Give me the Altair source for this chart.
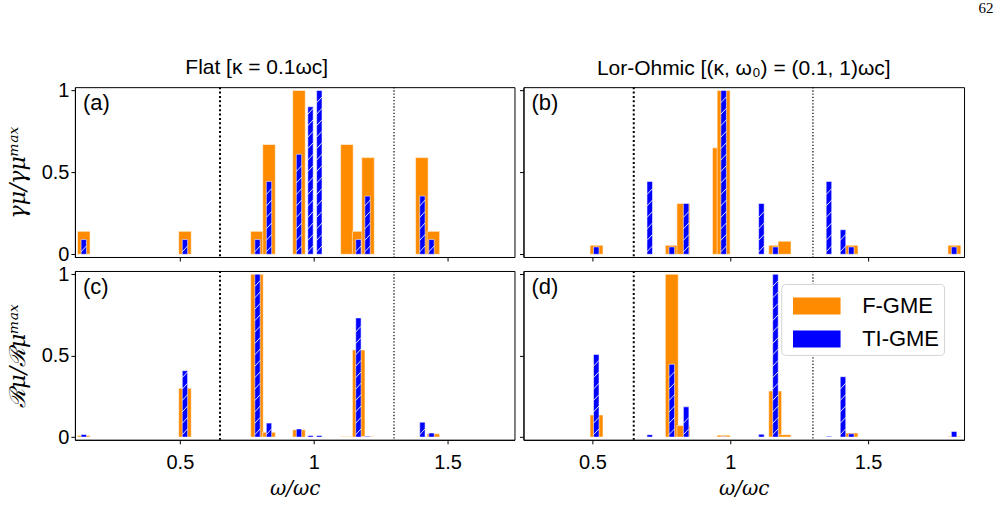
import altair as alt
import pandas as pd

# ---------------- data ----------------
series_names = ["F-GME", "TI-GME"]
series_colors = ["#ff8c00", "#0000ff"]

# Flat spectral density column
flat_f_omega = [0.141, 0.519, 0.788, 0.833, 0.945, 1.124, 1.168, 1.203, 1.404, 1.447]
flat_f_gamma = [0.14, 0.14, 0.14, 0.67, 1.0, 0.67, 0.14, 0.59, 0.59, 0.14]
flat_f_rate = [0.01, 0.30, 1.0, 0.03, 0.045, 0.004, 0.535, 0.004, 0.003, 0.02]
flat_t_omega = [0.141, 0.519, 0.790, 0.833, 0.945, 0.988, 1.021, 1.167, 1.201, 1.406, 1.440]
flat_t_gamma = [0.09, 0.09, 0.09, 0.445, 0.61, 0.90, 1.0, 0.09, 0.355, 0.355, 0.09]
flat_t_rate = [0.016, 0.408, 1.0, 0.086, 0.05, 0.01, 0.01, 0.732, 0.005, 0.092, 0.025]

# Lorentzian-Ohmic column
lor_f_omega = [0.515, 0.788, 0.830, 0.959, 0.976, 1.163, 1.197, 1.440, 1.813]
lor_f_gamma = [0.055, 0.055, 0.31, 0.65, 1.0, 0.055, 0.08, 0.055, 0.055]
lor_f_rate = [0.136, 1.0, 0.071, 0.003, 0.012, 0.283, 0.015, 0.025, 0.005]
lor_t_omega = [0.514, 0.708, 0.788, 0.840, 0.976, 1.113, 1.164, 1.358, 1.409, 1.439, 1.812]
lor_t_gamma = [0.045, 0.445, 0.045, 0.31, 1.0, 0.31, 0.045, 0.445, 0.15, 0.045, 0.045]
lor_t_rate = [0.508, 0.015, 0.447, 0.186, 0.003, 0.018, 1.0, 0.005, 0.371, 0.02, 0.035]

boundary_omega = [0.65, 1.3]
x_ticks = [0.5, 1, 1.5]
y_ticks = [0, 0.5, 1]
flat_domain = [0.108, 1.75]
lor_domain = [0.25, 1.848]
y_domain = [-0.0165, 1.02]

F_WIDTH = 0.047
T_WIDTH = 0.020
HATCH_STEP = 0.07
HATCH_RISE = 0.036

SANS = "Liberation Sans"
SERIF = "DejaVu Serif"

color = alt.Color(
    "series:N",
    scale=alt.Scale(domain=series_names, range=series_colors),
    legend=alt.Legend(
        title=None,
        orient="none",
        legendX=707,
        legendY=197,
        symbolType="M-0.6,-0.5H2.2V0.5H-0.6Z",
        symbolSize=1156,
        symbolStrokeWidth=0,
        symbolOpacity=1,
        labelFont=SANS,
        labelFontSize=22,
        labelColor="black",
        labelOffset=42,
        rowPadding=5,
        padding=5,
        fillColor="white",
        strokeColor="#d4d4d4",
        cornerRadius=4,
    ),
)


def bar_table(omega, vals, name, width):
    return pd.DataFrame({
        "lo": [o - width / 2 for o in omega],
        "hi": [o + width / 2 for o in omega],
        "val": vals,
        "y0": [0.0] * len(vals),
        "series": [name] * len(vals),
    })


def hatch_table(omega, vals, width):
    rows = []
    for o, v in zip(omega, vals):
        y = 0.015
        while y + HATCH_RISE <= v:
            rows.append({"hx": o - width / 2, "hx2": o + width / 2, "hy": y, "hy2": y + HATCH_RISE})
            y += HATCH_STEP
    return pd.DataFrame(rows, columns=["hx", "hx2", "hy", "hy2"])


def panel(f_omega, f_vals, t_omega, t_vals, xdom, label, show_x, show_y, ytitle,
          title=None, title_dx=0, title_offset=0, width=440, height=170):
    xscale = alt.Scale(domain=xdom, nice=False, zero=False)
    yscale = alt.Scale(domain=y_domain, nice=False, zero=False)
    xaxis = alt.Axis(values=x_ticks, format="~g", labels=show_x, title="ω/ωc" if show_x else "",
                     titleFont=SERIF, titleFontStyle="italic", titleFontSize=20, titleFontWeight="normal",
                     titlePadding=6, labelPadding=9)
    yaxis = alt.Axis(values=y_ticks, format="~g", labels=show_y, title=ytitle if show_y else "",
                     titleFont=SERIF, titleFontStyle="italic", titleFontSize=22, titleFontWeight="normal",
                     titlePadding=12, labelPadding=2)

    b0 = alt.Chart(pd.DataFrame({"b": [boundary_omega[0]]})).mark_rule(
        color="black", strokeWidth=2, strokeDash=[2, 2.4]
    ).encode(x=alt.X("b:Q", scale=xscale, axis=xaxis))
    b1 = alt.Chart(pd.DataFrame({"b": [boundary_omega[1]]})).mark_rule(
        color="black", strokeWidth=1.2, strokeDash=[1.3, 1.9]
    ).encode(x=alt.X("b:Q", scale=xscale, axis=xaxis))

    fbars = alt.Chart(bar_table(f_omega, f_vals, series_names[0], F_WIDTH)).mark_rect(
        stroke="white", strokeOpacity=0.55, strokeWidth=1, clip=True
    ).encode(
        x=alt.X("lo:Q", scale=xscale, axis=xaxis), x2="hi",
        y=alt.Y("val:Q", scale=yscale, axis=yaxis), y2="y0",
        color=color,
    )
    tbars = alt.Chart(bar_table(t_omega, t_vals, series_names[1], T_WIDTH)).mark_rect(
        stroke="white", strokeOpacity=0.55, strokeWidth=1, clip=True
    ).encode(
        x=alt.X("lo:Q", scale=xscale, axis=xaxis), x2="hi",
        y=alt.Y("val:Q", scale=yscale, axis=yaxis), y2="y0",
        color=color,
    )
    hatch = alt.Chart(hatch_table(t_omega, t_vals, T_WIDTH)).mark_rule(
        color="white", strokeWidth=1, opacity=0.85
    ).encode(
        x=alt.X("hx:Q", scale=xscale, axis=xaxis), x2="hx2",
        y=alt.Y("hy:Q", scale=yscale, axis=yaxis), y2="hy2",
    )
    lab = alt.Chart(pd.DataFrame({"t": [label]})).mark_text(
        align="left", baseline="top", font=SANS, fontSize=22, color="black"
    ).encode(text="t:N", x=alt.value(8), y=alt.value(6))

    props = dict(width=width, height=height)
    if title is not None:
        props["title"] = alt.Title(title, font=SANS, fontSize=21, fontWeight="normal",
                                   color="black", offset=title_offset, dx=title_dx)
    return alt.layer(b0, b1, fbars, tbars, hatch, lab).properties(**props)


pa = panel(flat_f_omega, flat_f_gamma, flat_t_omega, flat_t_gamma, flat_domain, "(a)",
           False, True, "γμ/γμᵐᵃˣ", title="Flat [κ = 0.1ωc]", title_dx=-38, title_offset=2,
           width=440, height=170)
pb = panel(lor_f_omega, lor_f_gamma, lor_t_omega, lor_t_gamma, lor_domain, "(b)",
           False, False, "", title="Lor-Ohmic [(κ, ω₀) = (0.1, 1)ωc]", title_offset=7,
           width=441, height=170)
pc = panel(flat_f_omega, flat_f_rate, flat_t_omega, flat_t_rate, flat_domain, "(c)",
           True, True, "ℛμ/ℛμᵐᵃˣ", width=440, height=169)
pd_ = panel(lor_f_omega, lor_f_rate, lor_t_omega, lor_t_rate, lor_domain, "(d)",
            True, False, "", width=441, height=169)

chart = alt.concat(
    pa, pb, pc, pd_, columns=2, spacing={"row": 14, "column": 9}, bounds="flush"
).properties(
    title=alt.Title("62", anchor="end", font="Liberation Serif", fontSize=15, fontWeight="normal",
                    color="black", dx=29, offset=41),
    padding={"left": 5, "top": 0, "right": 4, "bottom": 4},
).configure_view(
    stroke="black", strokeWidth=1
).configure_axis(
    grid=False, domainColor="black", tickColor="black", tickSize=4, labelFont=SANS,
    labelFontSize=20, labelColor="black", titleColor="black"
)

chart.save("out.html", embed_options={"renderer": "svg", "actions": False})
